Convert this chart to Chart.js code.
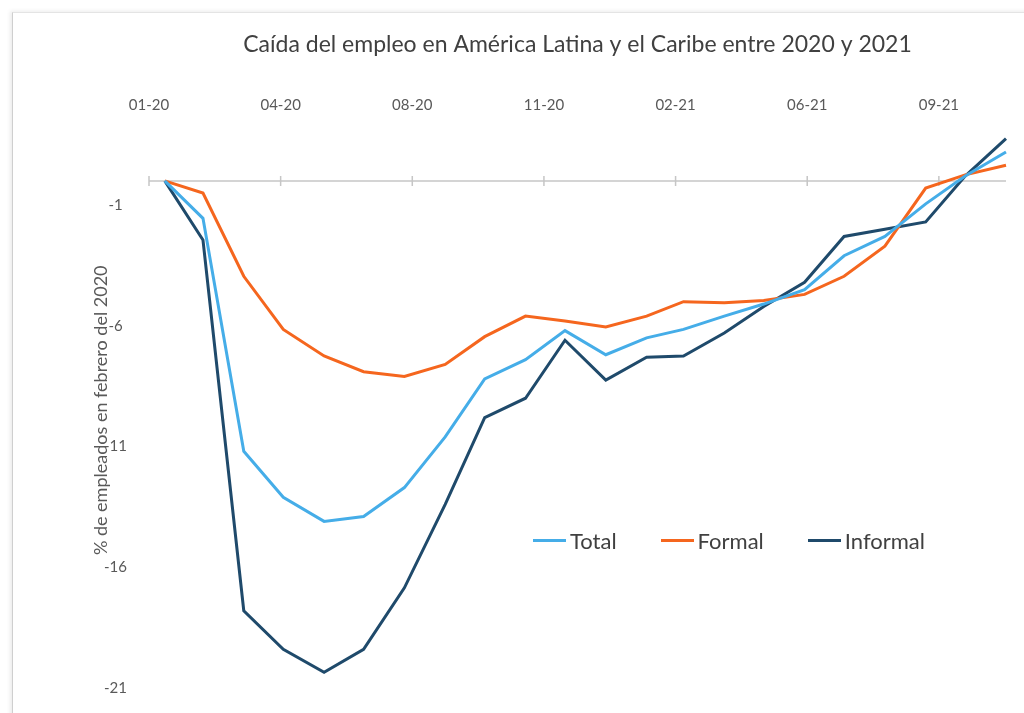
<!DOCTYPE html>
<html>
<head>
<meta charset="utf-8">
<script src="https://cdn.jsdelivr.net/npm/chart.js@4/dist/chart.umd.min.js"></script>
<style>
  html, body { margin: 0; padding: 0; background: #ffffff; }
  #wrap { position: relative; width: 1024px; height: 713px; overflow: hidden; background: #fff; }
  #frame { position: absolute; left: 12px; top: 12px; width: 1100px; height: 800px;
           border-left: 1.5px solid #cfcfcf; border-top: 1px solid #e4e4e4;
           box-shadow: -2px -1px 4px rgba(0,0,0,0.08); pointer-events: none; }
  canvas { position: absolute; left: 0; top: 0; }
  #legend { position: absolute; left: 533px; top: 527px; display: flex; gap: 44px;
            font-family: Lato, "Open Sans", sans-serif; font-size: 22px; color: #404040; }
  #legend .item { display: flex; align-items: center; }
  #legend .swatch { width: 33px; height: 3px; margin-right: 4px; }
</style>
</head>
<body>
<div id="wrap">
  <div id="frame"></div>
  <canvas id="c" width="1024" height="713"></canvas>
  <div id="legend"></div>
</div>
<script>
// ---- Data ----
const months = ["02-20","03-20","04-20","05-20","06-20","07-20","08-20","09-20","10-20","11-20","12-20",
                "01-21","02-21","03-21","04-21","05-21","06-21","07-21","08-21","09-21","10-21","11-21"];
const totalValues    = [0, -1.55, -11.2, -13.1, -14.1, -13.9, -12.7, -10.6, -8.2, -7.4, -6.2,
                        -7.2, -6.5, -6.15, -5.6, -5.1, -4.5, -3.1, -2.3, -0.95, 0.2, 1.2];
const formalValues   = [0, -0.5, -3.95, -6.15, -7.25, -7.9, -8.1, -7.6, -6.45, -5.6, -5.8,
                        -6.05, -5.6, -5.0, -5.05, -4.95, -4.7, -3.95, -2.7, -0.3, 0.25, 0.65];
const informalValues = [0, -2.45, -17.8, -19.4, -20.35, -19.4, -16.85, -13.4, -9.8, -9.0, -6.6,
                        -8.25, -7.3, -7.25, -6.3, -5.2, -4.2, -2.3, -2.0, -1.7, 0.2, 1.75];
const seriesNames  = ["Total", "Formal", "Informal"];
const xTickLabels  = ["01-20","04-20","08-20","11-20","02-21","06-21","09-21"];
const yTickValues  = [-21, -16, -11, -6, -1];

// ---- Helpers ----
const DAY = 86400000;
function monthToDay(mmyy) { const [m, y] = mmyy.split("-"); return Date.UTC(2000 + Number(y), Number(m) - 1, 1) / DAY; }
const xAxisStart = Date.UTC(2020, 0, 20) / DAY;     // Excel date-axis start
const xAxisEnd   = monthToDay(months[months.length - 1]);
const xTickStep  = 100;                               // days between major units

function pts(vals) { return vals.map((v, i) => ({ x: monthToDay(months[i]), y: v })); }

const colors = { Total: "#45ADE8", Formal: "#F5661E", Informal: "#1F4A6B" };
const seriesValues = [totalValues, formalValues, informalValues];

const zeroAxis = {
  id: "zeroAxis",
  beforeDatasetsDraw(chart) {
    const { ctx, chartArea, scales: { x, y } } = chart;
    const py = y.getPixelForValue(0);
    ctx.save();
    ctx.strokeStyle = "#c6c6c6";
    ctx.lineWidth = 1.5;
    ctx.beginPath();
    ctx.moveTo(chartArea.left, py);
    ctx.lineTo(chartArea.right, py);
    x.ticks.forEach(t => {
      const px = x.getPixelForValue(t.value);
      ctx.moveTo(px, py - 5);
      ctx.lineTo(px, py + 5);
    });
    ctx.stroke();
    ctx.restore();
  }
};

const font = "Lato, 'Open Sans', sans-serif";

const chart = new Chart(document.getElementById("c"), {
  type: "line",
  data: {
    datasets: seriesNames.map((name, k) => ({
      label: name,
      data: pts(seriesValues[k]),
      borderColor: colors[name],
      backgroundColor: colors[name],
      borderWidth: 3,
      pointRadius: 0,
      tension: 0,
      clip: false
    }))
  },
  options: {
    responsive: false,
    animation: false,
    layout: { padding: { left: 80, right: 18, top: 0, bottom: 25 } },
    plugins: {
      legend: { display: false },
      tooltip: { enabled: false },
      title: {
        display: true,
        fullSize: false,
        text: "Caída del empleo en América Latina y el Caribe entre 2020 y 2021",
        color: "#404040",
        font: { family: font, size: 23, weight: "normal", lineHeight: 1.2 },
        padding: { top: 31, bottom: 0 }
      }
    },
    scales: {
      x: {
        type: "linear",
        position: "top",
        min: xAxisStart,
        max: xAxisEnd,
        grid: { display: false },
        border: { display: false },
        afterBuildTicks(scale) {
          scale.ticks = xTickLabels.map((_, k) => ({ value: xAxisStart + k * xTickStep }));
        },
        afterFit(scale) { scale.height = 74; },
        ticks: {
          maxRotation: 0,
          autoSkip: false,
          padding: 10,
          color: "#595959",
          font: { family: font, size: 15 },
          callback: (v, i) => xTickLabels[i]
        }
      },
      y: {
        type: "linear",
        min: -21,
        max: 2,
        grid: { display: false },
        border: { display: false },
        afterBuildTicks(scale) { scale.ticks = yTickValues.map(v => ({ value: v })); },
        afterFit(scale) { scale.width = 69; },
        ticks: {
          crossAlign: "center",
          padding: 14,
          color: "#595959",
          font: { family: font, size: 15 },
          callback: v => String(v)
        },
        title: {
          display: true,
          text: "% de empleados en febrero del 2020",
          color: "#595959",
          font: { family: font, size: 18 },
          padding: { top: 10, bottom: 0 }
        }
      }
    }
  },
  plugins: [zeroAxis]
});

// HTML legend built from the datasets
const legend = document.getElementById("legend");
chart.data.datasets.forEach(ds => {
  const item = document.createElement("div");
  item.className = "item";
  const sw = document.createElement("span");
  sw.className = "swatch";
  sw.style.background = ds.borderColor;
  const tx = document.createElement("span");
  tx.textContent = ds.label;
  item.appendChild(sw); item.appendChild(tx);
  legend.appendChild(item);
});
</script>
</body>
</html>
